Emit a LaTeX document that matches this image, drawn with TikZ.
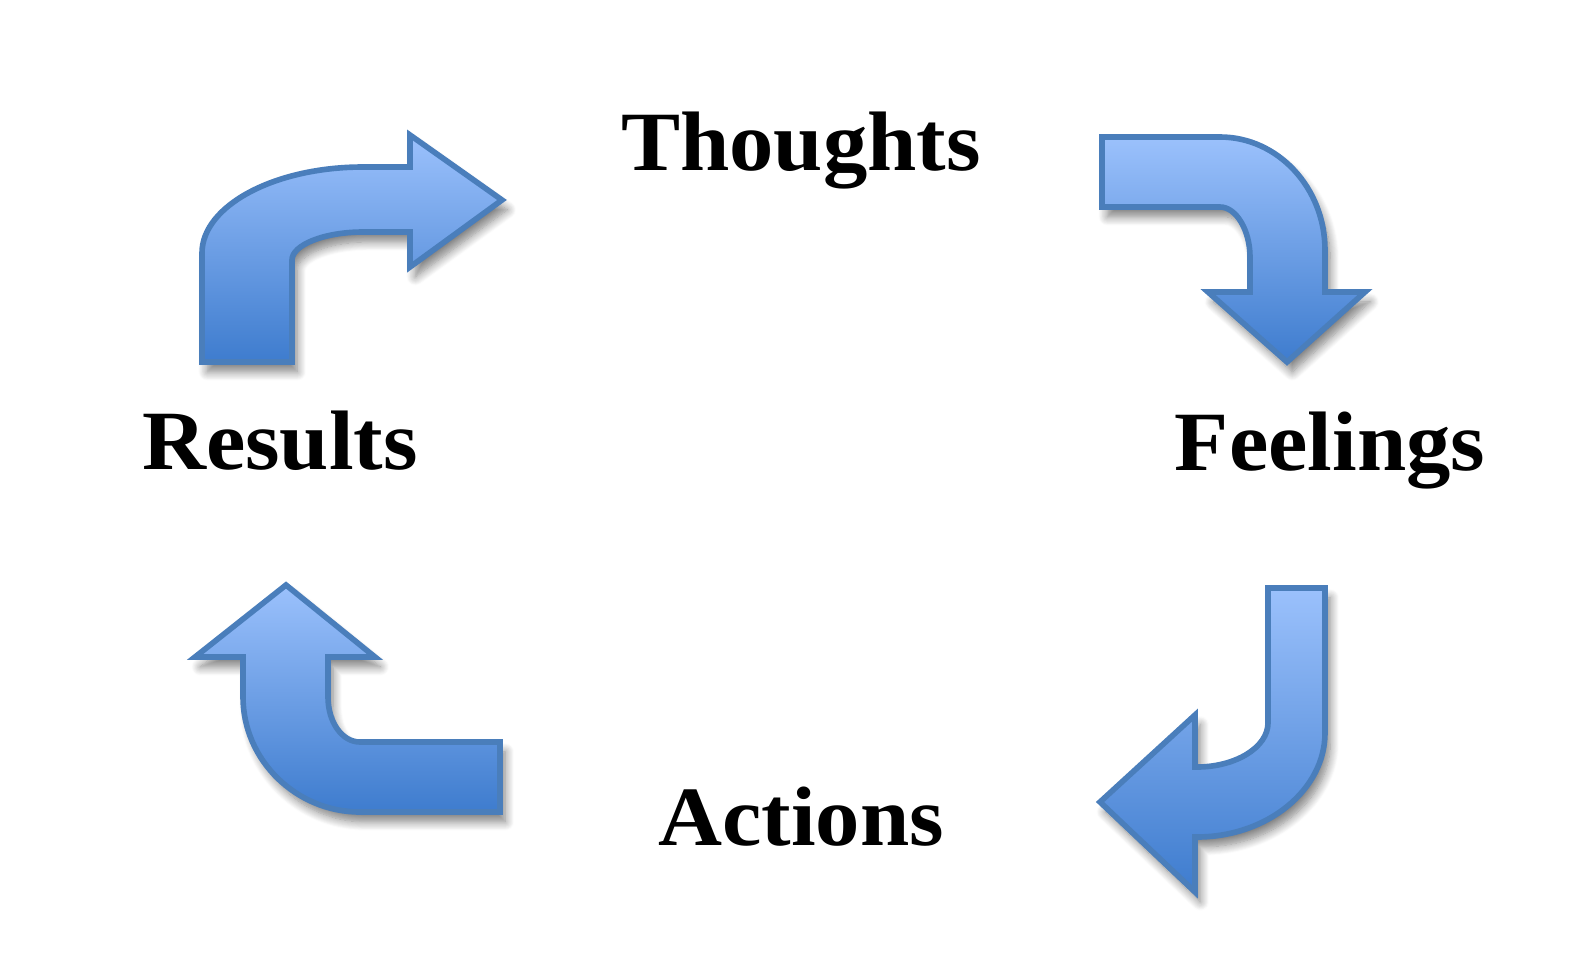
\documentclass[tikz,border=0pt]{standalone}
\usepackage{fontspec}
\usepackage{tikz}
\usetikzlibrary{shadows.blur}
\newfontfamily\cyclefont[FakeStretch=1.05]{Liberation Serif}
\definecolor{Arrow-top}{RGB}{155,193,252}
\definecolor{Arrow-bot}{RGB}{62,124,206}
\definecolor{Arrow-line}{RGB}{74,126,187}

\begin{document}
\begin{tikzpicture}[x=0.01cm, y=-0.01cm]
        \tikzset{ lbl/.style ={text=black, anchor=base, inner sep=0pt, font=\cyclefont\bfseries\fontsize{24}{28}\selectfont} }
        \tikzset{ barrow/.style={draw=Arrow-line, line width=1.6pt, line join=miter, top color=Arrow-top, bottom color=Arrow-bot,
                                 blur shadow={shadow xshift=1.5pt, shadow yshift=-2.8pt, shadow blur steps=10, shadow blur radius=2.5pt, shadow opacity=50}} }

        \useasboundingbox (0,0) rectangle (1572,978);

        \node[lbl] (thoughts) at ( 801,170) {Thoughts};
        \node[lbl] (feelings) at (1330,470) {Feelings};
        \node[lbl] (actions)  at ( 801,845) {Actions};
        \node[lbl] (results)  at ( 280,469) {Results};

        % results -> thoughts
        \path[barrow] (202,362) -- (202,253) .. controls (202,206) and (274,167) .. (363,167) -- (410,167) -- (410,135) -- (502,200)
                      -- (410,267) -- (410,232) -- (363,232) .. controls (324,232) and (292,245) .. (292,260) -- (292,362) -- cycle;

        % thoughts -> feelings
        \path[barrow] (1102,137) -- (1220,137) .. controls (1278,137) and (1325,188) .. (1325,250) -- (1325,292) -- (1365,292) -- (1287,362)
                      -- (1208,292) -- (1250,292) -- (1250,257) .. controls (1250,230) and (1236,207) .. (1220,207) -- (1102,207) -- cycle;

        % feelings -> actions
        \path[barrow] (1268,588) -- (1325,588) -- (1325,733) .. controls (1325,790) and (1267,837) .. (1197,837) -- (1195,837) -- (1195,892)
                      -- (1100,802) -- (1195,715) -- (1195,767) -- (1197,767) .. controls (1236,767) and (1268,747) .. (1268,723) -- cycle;

        % actions -> results
        \path[barrow] (500,742) -- (500,812) -- (360,812) .. controls (296,812) and (243,760) .. (243,697) -- (243,657) -- (195,657)
                      -- (286,585) -- (375,657) -- (328,657) -- (328,697) .. controls (328,722) and (342,742) .. (360,742) -- cycle;
      \end{tikzpicture}
\end{document}
